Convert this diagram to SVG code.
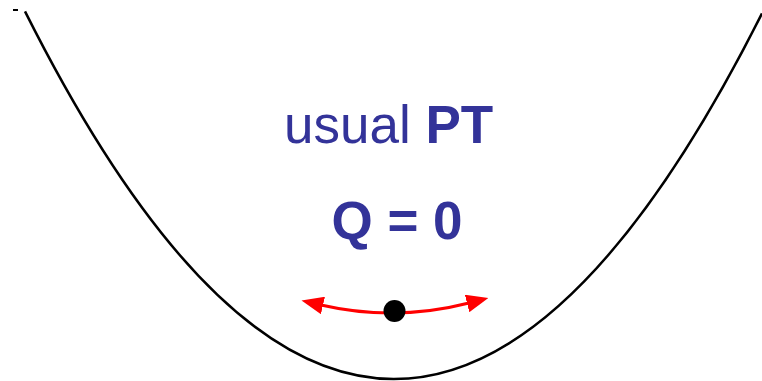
<svg xmlns="http://www.w3.org/2000/svg" width="762" height="381" viewBox="0 0 762 381">
  <style>
    .lbl { fill: #333399; font-family: "Liberation Sans", Arial, sans-serif; font-size: 53px; }
    .b { font-weight: bold; }
    .curve { fill: none; stroke: #000; stroke-width: 2.5; }
    .swing { fill: none; stroke: #ff0000; stroke-width: 3; }
  </style>
  <defs>
    <marker id="ah" markerUnits="userSpaceOnUse" markerWidth="22" markerHeight="18" viewBox="0 0 22 18" refX="2" refY="9" orient="auto-start-reverse">
      <path d="M0,0 L22,9 L0,18 z" fill="#ff0000"/>
    </marker>
  </defs>
  <rect width="762" height="381" fill="#ffffff"/>
  <g id="potential">
    <line x1="13" y1="10" x2="18" y2="10" stroke="#000" stroke-width="2"/>
    <path class="curve" d="M25,11.4 Q393.5,745.7 762,13.4"/>
  </g>
  <g id="title">
    <text class="lbl" x="284" y="143">usual <tspan class="b">PT</tspan></text>
  </g>
  <g id="charge">
    <text class="lbl b" x="397" y="239" text-anchor="middle">Q = 0</text>
  </g>
  <g id="connectors">
    <path class="swing" d="M321,305 Q395,322 469,303" marker-start="url(#ah)" marker-end="url(#ah)"/>
  </g>
  <g id="ball">
    <circle cx="394.5" cy="311" r="11" fill="#000"/>
  </g>
</svg>
